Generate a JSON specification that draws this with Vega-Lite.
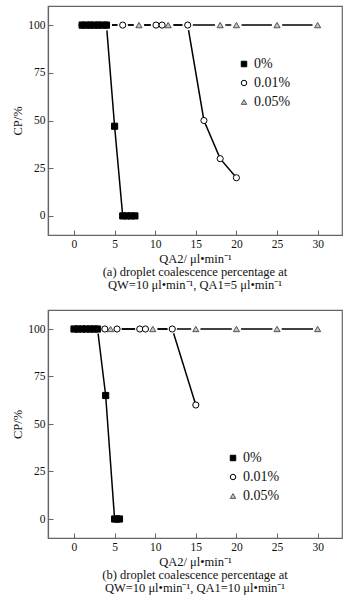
{
  "$schema": "https://vega.github.io/schema/vega-lite/v6.json",
  "background": "white",
  "padding": {"left": 11, "top": 5, "right": 5, "bottom": 5},
  "datasets": {
    "a": [
      {"series": "0.05%", "x": 1.2, "cp": 100}, {"series": "0.05%", "x": 2.4, "cp": 100}, {"series": "0.05%", "x": 4, "cp": 100},
      {"series": "0.05%", "x": 8, "cp": 100}, {"series": "0.05%", "x": 11.6, "cp": 100}, {"series": "0.05%", "x": 18, "cp": 100},
      {"series": "0.05%", "x": 20, "cp": 100}, {"series": "0.05%", "x": 25, "cp": 100}, {"series": "0.05%", "x": 30, "cp": 100},
      {"series": "0.01%", "x": 1, "cp": 100}, {"series": "0.01%", "x": 2, "cp": 100}, {"series": "0.01%", "x": 3, "cp": 100},
      {"series": "0.01%", "x": 4, "cp": 100}, {"series": "0.01%", "x": 6, "cp": 100}, {"series": "0.01%", "x": 10.1, "cp": 100},
      {"series": "0.01%", "x": 10.85, "cp": 100}, {"series": "0.01%", "x": 14, "cp": 100}, {"series": "0.01%", "x": 16, "cp": 50},
      {"series": "0.01%", "x": 18, "cp": 30}, {"series": "0.01%", "x": 20, "cp": 20},
      {"series": "0%", "x": 1, "cp": 100}, {"series": "0%", "x": 1.5, "cp": 100}, {"series": "0%", "x": 2, "cp": 100},
      {"series": "0%", "x": 2.5, "cp": 100}, {"series": "0%", "x": 3, "cp": 100}, {"series": "0%", "x": 3.5, "cp": 100},
      {"series": "0%", "x": 4, "cp": 100}, {"series": "0%", "x": 5, "cp": 47}, {"series": "0%", "x": 6, "cp": 0},
      {"series": "0%", "x": 6.5, "cp": 0}, {"series": "0%", "x": 7, "cp": 0}, {"series": "0%", "x": 7.5, "cp": 0}
    ],
    "b": [
      {"series": "0.05%", "x": 0.5, "cp": 100}, {"series": "0.05%", "x": 2, "cp": 100}, {"series": "0.05%", "x": 4.5, "cp": 100},
      {"series": "0.05%", "x": 9.7, "cp": 100}, {"series": "0.05%", "x": 15, "cp": 100}, {"series": "0.05%", "x": 20, "cp": 100},
      {"series": "0.05%", "x": 25, "cp": 100}, {"series": "0.05%", "x": 30, "cp": 100},
      {"series": "0.01%", "x": 0.3, "cp": 100}, {"series": "0.01%", "x": 1.2, "cp": 100}, {"series": "0.01%", "x": 2.2, "cp": 100},
      {"series": "0.01%", "x": 3.8, "cp": 100}, {"series": "0.01%", "x": 5.3, "cp": 100}, {"series": "0.01%", "x": 8.1, "cp": 100},
      {"series": "0.01%", "x": 8.8, "cp": 100}, {"series": "0.01%", "x": 12.1, "cp": 100}, {"series": "0.01%", "x": 15, "cp": 60},
      {"series": "0%", "x": 0, "cp": 100}, {"series": "0%", "x": 0.5, "cp": 100}, {"series": "0%", "x": 1, "cp": 100},
      {"series": "0%", "x": 1.5, "cp": 100}, {"series": "0%", "x": 2, "cp": 100}, {"series": "0%", "x": 2.5, "cp": 100},
      {"series": "0%", "x": 2.9, "cp": 100}, {"series": "0%", "x": 3.9, "cp": 65}, {"series": "0%", "x": 5, "cp": 0},
      {"series": "0%", "x": 5.3, "cp": 0}, {"series": "0%", "x": 5.6, "cp": 0}
    ]
  },
  "vconcat": [
    {
      "width": 294, "height": 229,
      "data": {"name": "a"},
      "title": {"text": ["(a) droplet coalescence percentage at", "QW=10 μl•min⁻¹, QA1=5 μl•min⁻¹"]},
      "encoding": {
        "x": {"field": "x", "type": "quantitative", "scale": {"domain": [-3.2, 33], "nice": false, "zero": false},
              "axis": {"values": [0, 5, 10, 15, 20, 25, 30], "title": "QA2/ μl•min⁻¹", "labelPadding": 8}},
        "y": {"field": "cp", "type": "quantitative", "scale": {"domain": [-10, 110], "nice": false},
              "axis": {"values": [0, 25, 50, 75, 100], "title": "CP/%", "labelPadding": 8}}
      },
      "layer": [
        {"mark": {"type": "line", "color": "black", "strokeWidth": 1.5}, "encoding": {"detail": {"field": "series"}}},
        {"transform": [{"filter": "datum.cp == 100"}], "mark": {"type": "point", "shape": "circle", "filled": true, "color": "white", "opacity": 1, "size": 110}},
        {"mark": {"type": "point", "filled": true, "opacity": 1, "strokeWidth": 1, "size": 38},
         "encoding": {
           "shape": {"field": "series", "type": "nominal", "scale": {"domain": ["0%", "0.01%", "0.05%"], "range": ["square", "circle", "triangle-up"]},
                     "legend": {"orient": "none", "legendX": 189, "legendY": 51, "title": null}},
           "fill": {"field": "series", "type": "nominal", "scale": {"domain": ["0%", "0.01%", "0.05%"], "range": ["black", "white", "#c4c4c4"]},
                    "legend": {"orient": "none", "legendX": 189, "legendY": 51, "title": null}},
           "stroke": {"field": "series", "type": "nominal", "scale": {"domain": ["0%", "0.01%", "0.05%"], "range": ["black", "black", "#555555"]},
                      "legend": {"orient": "none", "legendX": 189, "legendY": 51, "title": null}}
         }}
      ]
    },
    {
      "width": 294, "height": 228,
      "data": {"name": "b"},
      "title": {"text": ["(b) droplet coalescence percentage at", "QW=10 μl•min⁻¹, QA1=10 μl•min⁻¹"]},
      "encoding": {
        "x": {"field": "x", "type": "quantitative", "scale": {"domain": [-3.2, 33], "nice": false, "zero": false},
              "axis": {"values": [0, 5, 10, 15, 20, 25, 30], "title": "QA2/ μl•min⁻¹", "labelPadding": 8}},
        "y": {"field": "cp", "type": "quantitative", "scale": {"domain": [-10, 110], "nice": false},
              "axis": {"values": [0, 25, 50, 75, 100], "title": "CP/%", "labelPadding": 8}}
      },
      "layer": [
        {"mark": {"type": "line", "color": "black", "strokeWidth": 1.5}, "encoding": {"detail": {"field": "series"}}},
        {"transform": [{"filter": "datum.cp == 100"}], "mark": {"type": "point", "shape": "circle", "filled": true, "color": "white", "opacity": 1, "size": 90}},
        {"mark": {"type": "point", "filled": true, "opacity": 1, "strokeWidth": 1, "size": 38},
         "encoding": {
           "shape": {"field": "series", "type": "nominal", "scale": {"domain": ["0%", "0.01%", "0.05%"], "range": ["square", "circle", "triangle-up"]},
                     "legend": {"orient": "none", "legendX": 178, "legendY": 141, "title": null}},
           "fill": {"field": "series", "type": "nominal", "scale": {"domain": ["0%", "0.01%", "0.05%"], "range": ["black", "white", "#c4c4c4"]},
                    "legend": {"orient": "none", "legendX": 178, "legendY": 141, "title": null}},
           "stroke": {"field": "series", "type": "nominal", "scale": {"domain": ["0%", "0.01%", "0.05%"], "range": ["black", "black", "#555555"]},
                      "legend": {"orient": "none", "legendX": 178, "legendY": 141, "title": null}}
         }}
      ]
    }
  ],
  "spacing": 17,
  "resolve": {
    "scale": {"shape": "independent", "fill": "independent", "stroke": "independent"},
    "legend": {"shape": "independent", "fill": "independent", "stroke": "independent"}
  },
  "config": {
    "font": "Liberation Serif",
    "view": {"stroke": "#666666", "strokeWidth": 1.2},
    "axis": {
      "grid": false, "domainColor": "#666666", "domainWidth": 1.2, "tickColor": "#666666", "tickSize": -5,
      "labelFont": "Liberation Serif", "labelFontSize": 11.5, "labelColor": "#111111",
      "titleFont": "Liberation Serif", "titleFontSize": 12.5, "titleFontWeight": "normal", "titleColor": "#111111", "titlePadding": 3
    },
    "legend": {
      "labelFont": "Liberation Serif", "labelFontSize": 14, "labelColor": "#111111", "symbolSize": 30,
      "symbolStrokeWidth": 1, "rowPadding": 5, "padding": 0, "labelOffset": 3
    },
    "title": {
      "orient": "bottom", "anchor": "middle", "font": "Liberation Serif", "fontSize": 12.5, "fontWeight": "normal",
      "color": "#111111", "lineHeight": 12.5, "offset": 1
    }
  }
}
